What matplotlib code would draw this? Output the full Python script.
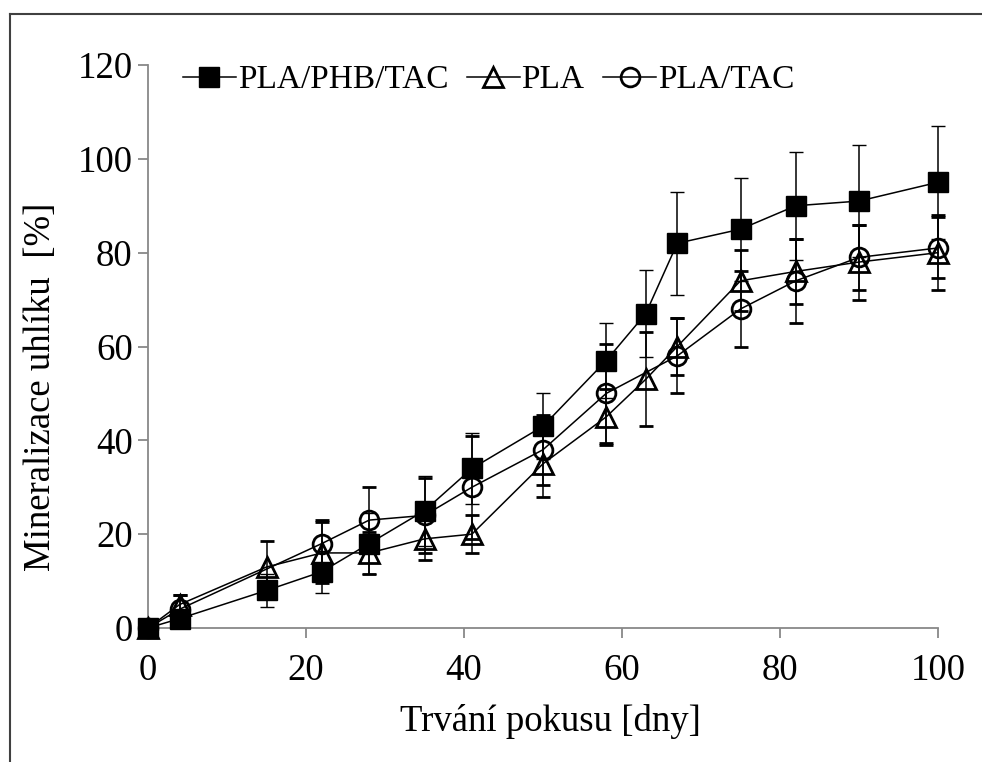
import matplotlib
matplotlib.use("Agg")
import matplotlib.pyplot as plt
from matplotlib.lines import Line2D

plt.rcParams['font.family'] = ['Liberation Serif', 'DejaVu Serif']

# ---- data ----
x_phb = [0, 4, 15, 22, 28, 35, 41, 50, 58, 63, 67, 75, 82, 90, 100]
y_phb = [0, 2, 8, 12, 18, 25, 34, 43, 57, 67, 82, 85, 90, 91, 95]
e_phb = [0, 1.5, 3.5, 4.5, 6.5, 7.5, 7.5, 7, 8, 9.3, 11, 11, 11.5, 12, 12]

x_pla = [0, 4, 15, 22, 28, 35, 41, 50, 58, 63, 67, 75, 82, 90, 100]
y_pla = [0, 5, 13, 16, 16, 19, 20, 35, 45, 53, 60, 74, 76, 78, 80]
e_pla = [0, 2, 5.6, 6.5, 4.5, 4.5, 4, 7, 6, 10, 6, 6.5, 7, 8, 8]

x_tac = [0, 4, 22, 28, 35, 41, 50, 58, 67, 75, 82, 90, 100]
y_tac = [0, 4, 18, 23, 24, 30, 38, 50, 58, 68, 74, 79, 81]
e_tac = [0, 3, 5, 7, 8, 11, 7.5, 10.5, 8, 8, 9, 7, 6.5]

labels = ['PLA/PHB/TAC', 'PLA', 'PLA/TAC']
x_ticks = [0, 20, 40, 60, 80, 100]
y_ticks = [0, 20, 40, 60, 80, 100, 120]

W, H = 982, 762
fig = plt.figure(figsize=(W / 100, H / 100), dpi=100)
ax = fig.add_axes([148 / W, 1 - 628 / H, 790 / W, 563 / H])

FS = 26.5
LFS = 24
ekw = dict(ecolor='black', elinewidth=1.1, capsize=4.8, capthick=1.1)

sq = dict(marker='s', ms=14.5, mfc='black', mec='black', mew=1)
tri = dict(marker='^', ms=14, mfc='none', mec='black', mew=2)
cir = dict(marker='o', ms=13.5, mfc='none', mec='black', mew=2)

ax.errorbar(x_tac, y_tac, yerr=e_tac, color='black', lw=1.1,
            clip_on=False, zorder=3, **cir, **ekw)
ax.errorbar(x_pla, y_pla, yerr=e_pla, color='black', lw=1.1,
            clip_on=False, zorder=3, **tri, **ekw)
ax.errorbar(x_phb, y_phb, yerr=e_phb, color='black', lw=1.1,
            clip_on=False, zorder=4, **sq, **ekw)

ax.set_xlim(0, 100)
ax.set_ylim(0, 120)
ax.set_xticks(x_ticks)
ax.set_yticks(y_ticks)
ax.tick_params(axis='both', labelsize=FS, color='#888888', width=1.3,
               length=7, direction='out')
ax.tick_params(axis='x', pad=11)
ax.tick_params(axis='y', pad=4)

for s in ['top', 'right']:
    ax.spines[s].set_visible(False)
for s in ['left', 'bottom']:
    ax.spines[s].set_color('#888888')
    ax.spines[s].set_linewidth(1.3)

ax.set_xlabel('Trvání pokusu [dny]', fontsize=FS)
ax.xaxis.set_label_coords(0.51, -0.135)
ax.xaxis.label.set_va('top')
ax.set_ylabel('Mineralizace uhlíku  [%]', fontsize=FS)
ax.yaxis.set_label_coords(-0.114, 0.429)

leg_handles = [
    Line2D([], [], color='black', lw=1.1, **sq),
    Line2D([], [], color='black', lw=1.1, **tri),
    Line2D([], [], color='black', lw=1.1, **cir),
]
ax.legend(leg_handles, labels, loc='center left', bbox_to_anchor=(0.044, 0.973),
          ncol=3, frameon=False, fontsize=LFS, handlelength=1.6,
          handletextpad=0.05, columnspacing=0.55, borderpad=0, borderaxespad=0)

# outer frame (top and left edges visible)
fig.add_artist(Line2D([9.5 / W, 1.0], [1 - 13.5 / H, 1 - 13.5 / H],
                      color='#404040', lw=1.5, transform=fig.transFigure))
fig.add_artist(Line2D([9.5 / W, 9.5 / W], [0.0, 1 - 13.5 / H],
                      color='#404040', lw=1.5, transform=fig.transFigure))

fig.savefig('out.png', dpi=100)
